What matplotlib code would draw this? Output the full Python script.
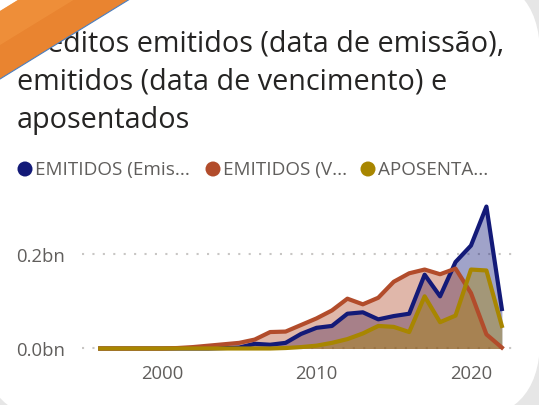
import matplotlib as mpl
mpl.use("Agg")
import matplotlib.pyplot as plt
from matplotlib.patches import FancyBboxPatch, Polygon, Circle

plt.rcParams['font.family'] = ['Open Sans', 'DejaVu Sans']

# data (values in bn)
years = list(range(1996, 2023))
emitidos_emissao = [0, 0, 0, 0, 0, 0, 0, 0, 0.001, 0.002, 0.010, 0.008, 0.012, 0.031,
                    0.044, 0.048, 0.074, 0.077, 0.062, 0.069, 0.074, 0.157, 0.111, 0.184,
                    0.219, 0.302, 0.084]
emitidos_venc = [0, 0, 0, 0, 0, 0.001, 0.003, 0.006, 0.009, 0.012, 0.019, 0.035, 0.036, 0.050,
                 0.064, 0.081, 0.106, 0.094, 0.108, 0.142, 0.160, 0.168, 0.158, 0.170,
                 0.118, 0.030, 0.002]
aposentados = [0, 0, 0, 0, 0, 0, 0, 0, 0, 0, 0, 0, 0.001, 0.003,
               0.006, 0.012, 0.020, 0.032, 0.048, 0.046, 0.035, 0.111, 0.056, 0.070,
               0.168, 0.166, 0.048]
series = [emitidos_emissao, emitidos_venc, aposentados]
series_names = ["EMITIDOS (Emis...", "EMITIDOS (V...", "APOSENTA..."]
series_colors = ["#131a78", "#b24c2b", "#a88600"]
title_lines = ["Créditos emitidos (data de emissão),",
               "emitidos (data de vencimento) e",
               "aposentados"]
yticks = [0.0, 0.2]
ytick_labels = ["0.0bn", "0.2bn"]
xticks = [2000, 2010, 2020]

W, H = 539, 406
fig = plt.figure(figsize=(W / 100, H / 100), dpi=100)
fig.patch.set_facecolor("#e6e6e6")

# card background, pixel coordinates (y down)
bg = fig.add_axes([0, 0, 1, 1], zorder=0)
bg.set_xlim(0, W)
bg.set_ylim(H, 0)
bg.axis("off")
bg.add_patch(FancyBboxPatch((-18, -24), 558, 445, boxstyle="round,pad=0,rounding_size=80",
                            fc="white", ec="none"))

for i, line in enumerate(title_lines):
    bg.text(17, [51, 90, 128][i], line, fontsize=20.7, color="#252423", va="baseline")

legend_x = [25, 213, 368]
for name, c, lx in zip(series_names, series_colors, legend_x):
    bg.add_patch(Circle((lx, 170), 7.5, fc=c, ec="none"))
    bg.text(lx + 10, 170.5, name, fontsize=13.6, color="#605e5c", va="center")

# plot area
ax = fig.add_axes([82 / W, 1 - 362 / H, (515 - 82) / W, (362 - 195) / H], zorder=1)
ax.patch.set_alpha(0)
for yv in yticks:
    ax.axhline(yv, color="#c8c6c4", lw=1.5, ls=(0, (1, 4)), zorder=0)
for vals, c in zip(series, series_colors):
    ax.fill_between(years, vals, 0, color=c, alpha=0.4, lw=0, zorder=2)
    ax.plot(years, vals, color=c, lw=3, solid_joinstyle="round", zorder=3)
ax.set_xlim(1994.82, 2022.85)
ax.set_ylim(-0.0266, 0.3287)
ax.set_yticks(yticks)
ax.set_yticklabels(ytick_labels)
ax.set_xticks(xticks)
ax.tick_params(length=0, labelsize=13.3, labelcolor="#605e5c")
ax.tick_params(axis="y", pad=12)
ax.tick_params(axis="x", pad=2)
for s in ax.spines.values():
    s.set_visible(False)

# orange corner ribbon
ov = fig.add_axes([0, 0, 1, 1], zorder=10)
ov.set_xlim(0, W)
ov.set_ylim(H, 0)
ov.axis("off")
ov.add_patch(Polygon([(0, 12), (19.5, 0), (130, 0), (0, 80)], closed=True,
                     fc="#e98430", ec="none"))
ov.add_patch(Polygon([(0, 12), (19.5, 0), (75, 0), (0, 46)], closed=True,
                     fc="#f29640", ec="none", alpha=0.6))
ov.plot([0, 130], [80, 0], color="#4a7fc1", lw=0.8)

fig.savefig("out.png", dpi=100, facecolor=fig.get_facecolor())
